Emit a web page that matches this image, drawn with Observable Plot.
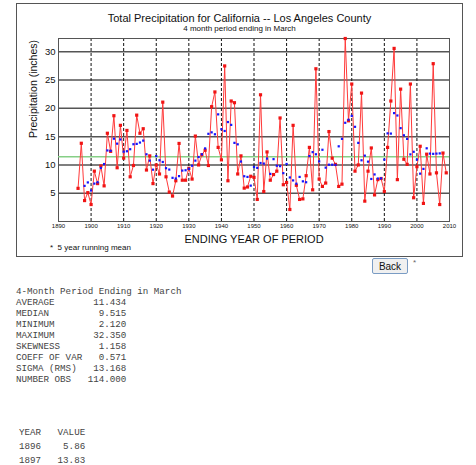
<!DOCTYPE html>
<html>
<head>
<meta charset="utf-8">
<script src="https://cdn.jsdelivr.net/npm/d3@7"></script>
<script src="https://cdn.jsdelivr.net/npm/@observablehq/plot@0.6"></script>
<style>
  html, body { margin: 0; padding: 0; background: #fff; }
  body { position: relative; width: 476px; height: 465px; overflow: hidden;
         font-family: "Liberation Sans", Arial, sans-serif; color: #111; }
  .abs { position: absolute; white-space: pre; }
  #box { position: absolute; left: 16px; top: 3px; width: 445px; height: 252px; border: 1px solid #555; }
  #title { left: 16px; width: 447px; top: 12.5px; font-size: 11px; line-height: 11px; text-align: center; }
  #subtitle { left: 16px; width: 447px; top: 24.5px; font-size: 8px; line-height: 8px; text-align: center; }
  #chart { position: absolute; left: 16px; top: 32px; }
  #note { left: 50px; top: 243.5px; font-size: 8px; line-height: 8px; }
  #back { position: absolute; left: 372px; top: 258px; width: 36px; height: 16px; padding: 0;
          font: 10px "Liberation Sans", Arial, sans-serif; color: #111; background: #f0f0f0;
          border: 1px solid #7a9cc4; border-radius: 2px; }
  #star { left: 413px; top: 259px; font-size: 8px; line-height: 8px; color: #666; }
  .mono { font-family: "Liberation Mono", "Courier New", monospace; font-size: 9.2px; color: #444; }
  #stats { left: 16px; top: 286px; line-height: 11px; }
  #table { left: 19px; top: 425.5px; line-height: 14px; }
</style>
</head>
<body>
<div id="box"></div>
<div id="title" class="abs">Total Precipitation for California -- Los Angeles County</div>
<div id="subtitle" class="abs">4 month period ending in March</div>
<div id="chart"></div>
<div id="note" class="abs">*  5 year running mean</div>
<button id="back">Back</button>
<div id="star" class="abs">*</div>
<div id="stats" class="abs mono"></div>
<div id="table" class="abs mono"></div>
<script>
// Nov–Mar precipitation totals (inches), one per ending year starting 1896
const firstYear = 1896;
const precip = [
  5.86, 13.83, 3.7, 5.1,
  3.0, 8.9, 6.7, 9.8, 6.3, 15.6, 12.4, 18.7, 9.5, 17.0,
  11.2, 16.1, 7.9, 9.9, 18.8, 15.6, 16.4, 9.1, 11.6, 6.7,
  10.0, 8.4, 21.1, 7.9, 5.2, 4.5, 7.2, 13.8, 7.3, 7.3,
  9.4, 7.5, 15.1, 10.0, 11.8, 12.6, 9.9, 20.3, 22.9, 13.1,
  10.9, 27.5, 7.2, 21.3, 21.0, 8.4, 11.6, 5.9, 6.1, 8.0,
  7.8, 3.9, 22.4, 5.3, 12.3, 7.3, 8.3, 8.9, 18.3, 6.5,
  6.9, 2.12, 17.0, 6.4, 3.9, 4.0, 8.1, 13.1, 5.6, 27.0,
  7.5, 6.2, 6.8, 15.9, 11.2, 10.1, 6.2, 6.6, 32.35, 17.8,
  24.3, 8.9, 10.0, 22.7, 3.6, 8.9, 13.0, 4.7, 7.4, 7.6,
  5.3, 13.1, 21.3, 30.6, 7.4, 23.4, 11.0, 10.1, 24.3, 4.2,
  9.7, 13.3, 3.2, 11.9, 8.4, 27.9, 8.6, 3.0, 12.1, 8.6
];

// Summary statistics reported for the series
const statLabels = ["AVERAGE", "MEDIAN", "MINIMUM", "MAXIMUM", "SKEWNESS", "COEFF OF VAR", "SIGMA (RMS)", "NUMBER OBS"];
const statValues = ["11.434", "9.515", "2.120", "32.350", "1.158", "0.571", "13.168", "114.000"];
const average = 11.434;

// Axis ticks and guide lines
const yTicks = [5, 10, 15, 20, 25, 30];
const xTicks = [1890, 1900, 1910, 1920, 1930, 1940, 1950, 1960, 1970, 1980, 1990, 2000, 2010];
const decadeLines = [1900, 1910, 1920, 1930, 1940, 1950, 1960, 1970, 1980, 1990, 2000];
const tableRowsShown = 2;

const records = precip.map((value, i) => ({year: firstYear + i, value}));

const chart = Plot.plot({
  width: 447,
  height: 213,
  marginLeft: 42,
  marginRight: 14,
  marginTop: 6,
  marginBottom: 24,
  style: {fontFamily: "'Liberation Sans', Arial, sans-serif", background: "transparent", color: "#111"},
  x: {domain: [1890, 2010]},
  y: {domain: [0, 32.35]},
  marks: [
    Plot.ruleY(yTicks, {stroke: "#555", strokeWidth: 1.5}),
    Plot.ruleX(decadeLines, {stroke: "#111", strokeDasharray: "3,2"}),
    Plot.frame({stroke: "#555"}),
    Plot.ruleY([average], {stroke: "#86cf86", strokeWidth: 1.5}),
    Plot.line(records, {x: "year", y: "value", stroke: "#ff3a3a", strokeWidth: 1}),
    Plot.dot(records, {x: "year", y: "value", symbol: "square", r: 1.8, fill: "#f01414"}),
    Plot.dot(records, Plot.windowY({k: 5, anchor: "middle", strict: true},
      {x: "year", y: "value", symbol: "square", r: 1.25, fill: "#1414ff"})),
    Plot.axisY(yTicks, {tickSize: 0, tickPadding: 3, fontSize: 9.5, label: null}),
    Plot.axisX(xTicks, {tickSize: 0, tickPadding: 2, fontSize: 6, label: null, tickFormat: d3.format("d")}),
    Plot.text(["Precipitation (inches)"], {text: d => d, frameAnchor: "left", rotate: -90, dx: -25, dy: 8, fontSize: 10.5}),
    Plot.text(["ENDING YEAR OF PERIOD"], {text: d => d, frameAnchor: "bottom", dy: 18, lineAnchor: "middle", fontSize: 11})
  ]
});
document.getElementById("chart").appendChild(chart);

// Statistics block and the first rows of the data listing
const statLines = ["4-Month Period Ending in March"].concat(
  statLabels.map((label, i) => label + statValues[i].padStart(20 - label.length))
);
document.getElementById("stats").textContent = statLines.join("\n");

const tableLines = ["YEAR   VALUE"].concat(
  records.slice(0, tableRowsShown).map(r => String(r.year) + r.value.toFixed(2).padStart(8))
);
document.getElementById("table").textContent = tableLines.join("\n");
</script>
</body>
</html>
